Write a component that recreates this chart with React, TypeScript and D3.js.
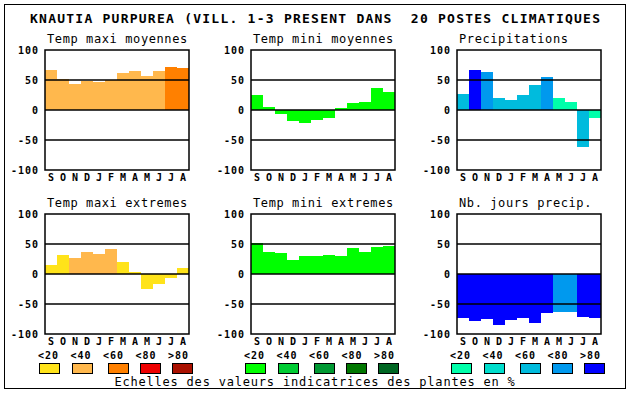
import React from "react";
import * as d3 from "d3";

const months = ["S", "O", "N", "D", "J", "F", "M", "A", "M", "J", "J", "A"];
const titleText = "KNAUTIA PURPUREA (VILL. 1-3 PRESENT DANS  20 POSTES CLIMATIQUES";
const panelTitles = [
  "Temp maxi moyennes",
  "Temp mini moyennes",
  "Precipitations",
  "Temp maxi extremes",
  "Temp mini extremes",
  "Nb. jours precip.",
];
const yTicks = [100, 50, 0, -50, -100];
const gridValues = [50, 0, -50];
const legendLabels = ["<20", "<40", "<60", "<80", ">80"];
const footerText = "Echelles des valeurs indicatrices des plantes en %";

// colour scales (classes 0..4)
const scaleTmax = ["#FFE31A", "#FFB84D", "#FF8000", "#EE0000", "#AA1100"];
const scaleTmin = ["#00FF00", "#00CC33", "#009933", "#007700", "#006622"];
const scalePrec = ["#00FFAA", "#00DDCC", "#00BBDD", "#0099EE", "#0000FF"];

// series values
const tmaxMoy = [67, 52, 43, 49, 47, 50, 61, 65, 57, 65, 72, 70];
const tminMoy = [25, 5, -6, -18, -21, -16, -13, 3, 12, 13, 37, 30];
const precip = [27, 67, 63, 20, 17, 25, 42, 55, 20, 13, -62, -13];
const tmaxExt = [15, 32, 27, 37, 34, 42, 20, 4, -25, -16, -6, 10];
const tminExt = [52, 37, 35, 24, 30, 30, 32, 30, 44, 37, 45, 47];
const joursPrec = [-73, -78, -75, -85, -76, -73, -81, -65, -63, -63, -71, -73];

// indicator class of each bar
const tmaxMoyCls = [1, 1, 1, 1, 1, 1, 1, 1, 1, 1, 2, 2];
const tminMoyCls = [0, 0, 0, 0, 0, 0, 0, 0, 0, 0, 0, 0];
const precipCls = [2, 4, 3, 2, 2, 2, 2, 3, 0, 0, 2, 0];
const tmaxExtCls = [0, 0, 1, 1, 1, 1, 0, 0, 0, 0, 0, 0];
const tminExtCls = [0, 0, 0, 0, 0, 0, 0, 0, 0, 0, 0, 0];
const joursPrecCls = [4, 4, 4, 4, 4, 4, 4, 4, 3, 3, 4, 4];

const panels = [
  { values: tmaxMoy, cls: tmaxMoyCls, colors: scaleTmax },
  { values: tminMoy, cls: tminMoyCls, colors: scaleTmin },
  { values: precip, cls: precipCls, colors: scalePrec },
  { values: tmaxExt, cls: tmaxExtCls, colors: scaleTmax },
  { values: tminExt, cls: tminExtCls, colors: scaleTmin },
  { values: joursPrec, cls: joursPrecCls, colors: scalePrec },
];

const W = 630;
const H = 394;
const PW = 144;
const PH = 120;
const colX = [45, 251, 457];
const rowY = [50, 214];
const MONO = "'DejaVu Sans Mono', monospace";
const boxOffsets = [0, 33, 69, 101, 133];

export default function App() {
  const x = d3.scaleBand<number>().domain(d3.range(12)).range([0, PW]).padding(0);
  const y = d3.scaleLinear().domain([-100, 100]).range([PH, 0]);

  return (
    <svg
      width={W}
      height={H}
      style={{ position: "absolute", left: 0, top: 0, background: "#fff" }}
      fontFamily={MONO}
    >
      <rect x={0} y={0} width={W} height={H} fill="#fff" />
      <rect x={4.5} y={4.5} width={621} height={384} fill="none" stroke="#000" strokeWidth={1} />
      <text
        x={30}
        y={23}
        fontSize={13}
        fontWeight="bold"
        textLength={570}
        lengthAdjust="spacing"
        style={{ whiteSpace: "pre" }}
      >
        {titleText}
      </text>
      {panels.map((p, i) => {
        const px = colX[i % 3];
        const py = rowY[Math.floor(i / 3)];
        return (
          <g key={i} transform={`translate(${px},${py})`}>
            <text x={2} y={-7} fontSize={12} letterSpacing={0.6}>
              {panelTitles[i]}
            </text>
            {p.values.map((v, j) => (
              <rect
                key={j}
                x={x(j)}
                y={y(Math.max(0, v))}
                width={x.bandwidth()}
                height={Math.abs(y(v) - y(0))}
                fill={p.colors[p.cls[j]]}
                shapeRendering="crispEdges"
              />
            ))}
            {gridValues.map((g) => (
              <line key={g} x1={0} x2={PW} y1={y(g)} y2={y(g)} stroke="#000" strokeWidth={1.5} />
            ))}
            <rect x={0} y={0} width={PW} height={PH} fill="none" stroke="#000" strokeWidth={1.5} />
            {yTicks.map((t) => (
              <text
                key={t}
                x={-6}
                y={y(t)}
                dy="0.36em"
                textAnchor="end"
                fontSize={10}
                fontWeight="bold"
                letterSpacing={1}
              >
                {t}
              </text>
            ))}
            {months.map((m, j) => (
              <text
                key={j}
                x={(x(j) as number) + x.bandwidth() / 2}
                y={PH + 11}
                textAnchor="middle"
                fontSize={10}
                fontWeight="bold"
              >
                {m}
              </text>
            ))}
          </g>
        );
      })}
      {[scaleTmax, scaleTmin, scalePrec].map((cols, gi) => {
        const base = colX[gi] - 6;
        return (
          <g key={gi}>
            {legendLabels.map((l, k) => (
              <text
                key={l}
                x={base - 1 + k * 32.5}
                y={359}
                fontSize={10}
                fontWeight="bold"
                letterSpacing={1}
              >
                {l}
              </text>
            ))}
            {cols.map((c, k) => (
              <rect
                key={k}
                x={base + boxOffsets[k] + 0.5}
                y={363.5}
                width={20}
                height={10}
                fill={c}
                stroke="#000"
                strokeWidth={1}
              />
            ))}
          </g>
        );
      })}
      <text x={315} y={386} textAnchor="middle" fontSize={12} letterSpacing={0.8}>
        {footerText}
      </text>
    </svg>
  );
}
